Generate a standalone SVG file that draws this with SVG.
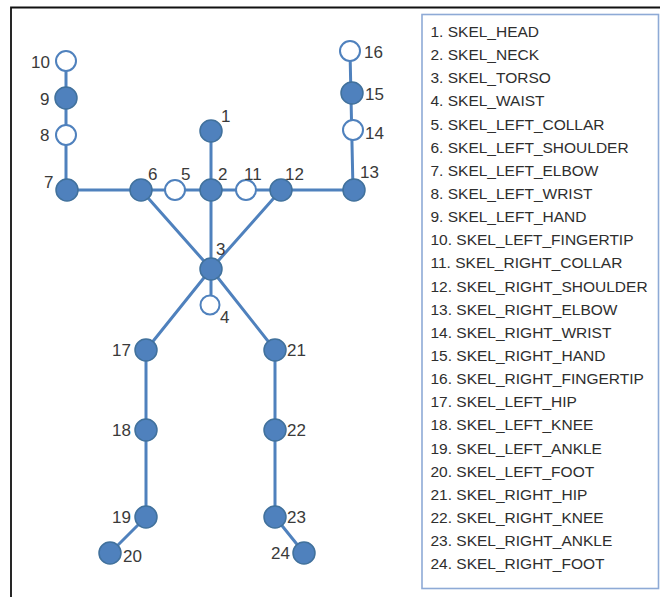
<svg xmlns="http://www.w3.org/2000/svg" width="660" height="597" viewBox="0 0 660 597">
  <style>
    .bone { stroke: #4f81bd; stroke-width: 3; fill: none; stroke-linecap: round; }
    .joint { fill: #4f81bd; stroke: #41719c; stroke-width: 1.5; }
    .virtual { fill: #ffffff; stroke: #4f81bd; stroke-width: 2; }
    .num { font-family: "Liberation Sans", Arial, sans-serif; font-size: 17px; fill: #3a3a3a; }
    .item { font-family: "Liberation Sans", Arial, sans-serif; font-size: 15.5px; fill: #2e2e2e; }
  </style>

  <rect x="0" y="0" width="660" height="597" fill="#ffffff"/>

  <!-- outer frame (top and left edges) -->
  <path d="M11 597 V7.5 H660" fill="none" stroke="#111111" stroke-width="1.8"/>

  <!-- bones -->
  <g id="connectors">
    <line class="bone" x1="66" y1="61" x2="66" y2="190"/>
    <line class="bone" x1="66" y1="190" x2="354" y2="190"/>
    <line class="bone" x1="211" y1="131" x2="211" y2="305"/>
    <line class="bone" x1="350" y1="51" x2="353" y2="190"/>
    <line class="bone" x1="141" y1="190" x2="211" y2="269"/>
    <line class="bone" x1="281" y1="190" x2="211" y2="269"/>
    <line class="bone" x1="211" y1="269" x2="146" y2="350"/>
    <line class="bone" x1="211" y1="269" x2="275" y2="350"/>
    <line class="bone" x1="146" y1="350" x2="146" y2="517"/>
    <line class="bone" x1="146" y1="517" x2="110" y2="553"/>
    <line class="bone" x1="275" y1="350" x2="275" y2="517"/>
    <line class="bone" x1="275" y1="517" x2="304" y2="553"/>
  </g>

  <!-- joints -->
  <g id="n1"><circle class="joint" cx="211" cy="131" r="11"/><text class="num" x="221" y="122">1</text></g>
  <g id="n2"><circle class="joint" cx="211" cy="190" r="11"/><text class="num" x="218" y="180">2</text></g>
  <g id="n3"><circle class="joint" cx="211" cy="269" r="11"/><text class="num" x="216" y="255">3</text></g>
  <g id="n4"><circle class="virtual" cx="210" cy="305" r="9.5"/><text class="num" x="220" y="323">4</text></g>
  <g id="n5"><circle class="virtual" cx="175" cy="190" r="10"/><text class="num" x="181" y="180">5</text></g>
  <g id="n6"><circle class="joint" cx="141" cy="190" r="11"/><text class="num" x="148" y="180">6</text></g>
  <g id="n7"><circle class="joint" cx="67" cy="190" r="11"/><text class="num" x="44" y="188">7</text></g>
  <g id="n8"><circle class="virtual" cx="66" cy="135" r="10"/><text class="num" x="40" y="141">8</text></g>
  <g id="n9"><circle class="joint" cx="66" cy="98" r="11"/><text class="num" x="40" y="105">9</text></g>
  <g id="n10"><circle class="virtual" cx="66" cy="61" r="10"/><text class="num" x="31" y="68">10</text></g>
  <g id="n11"><circle class="virtual" cx="246" cy="190" r="10"/><text class="num" x="244" y="180">11</text></g>
  <g id="n12"><circle class="joint" cx="281" cy="190" r="11"/><text class="num" x="285" y="180">12</text></g>
  <g id="n13"><circle class="joint" cx="354" cy="190" r="11"/><text class="num" x="360" y="178">13</text></g>
  <g id="n14"><circle class="virtual" cx="353" cy="130" r="10"/><text class="num" x="365" y="139">14</text></g>
  <g id="n15"><circle class="joint" cx="352" cy="93" r="11"/><text class="num" x="365" y="100">15</text></g>
  <g id="n16"><circle class="virtual" cx="350" cy="51" r="10"/><text class="num" x="364" y="58">16</text></g>
  <g id="n17"><circle class="joint" cx="146" cy="350" r="11"/><text class="num" x="112" y="356">17</text></g>
  <g id="n18"><circle class="joint" cx="146" cy="430" r="11"/><text class="num" x="112" y="436">18</text></g>
  <g id="n19"><circle class="joint" cx="146" cy="517" r="11"/><text class="num" x="112" y="523">19</text></g>
  <g id="n20"><circle class="joint" cx="110" cy="553" r="11"/><text class="num" x="123" y="562">20</text></g>
  <g id="n21"><circle class="joint" cx="275" cy="350" r="11"/><text class="num" x="287" y="356">21</text></g>
  <g id="n22"><circle class="joint" cx="275" cy="430" r="11"/><text class="num" x="287" y="436">22</text></g>
  <g id="n23"><circle class="joint" cx="275" cy="517" r="11"/><text class="num" x="287" y="523">23</text></g>
  <g id="n24"><circle class="joint" cx="304" cy="553" r="11"/><text class="num" x="271" y="559">24</text></g>

  <!-- joint name legend -->
  <g id="legend">
    <rect x="422" y="14.5" width="236.5" height="574" fill="#ffffff" stroke="#8eaad6" stroke-width="1.6"/>
    <text class="item" x="430.5" y="37">1. SKEL_HEAD</text>
    <text class="item" x="430.5" y="60.1">2. SKEL_NECK</text>
    <text class="item" x="430.5" y="83.3">3. SKEL_TORSO</text>
    <text class="item" x="430.5" y="106.4">4. SKEL_WAIST</text>
    <text class="item" x="430.5" y="129.6">5. SKEL_LEFT_COLLAR</text>
    <text class="item" x="430.5" y="152.7">6. SKEL_LEFT_SHOULDER</text>
    <text class="item" x="430.5" y="175.8">7. SKEL_LEFT_ELBOW</text>
    <text class="item" x="430.5" y="199">8. SKEL_LEFT_WRIST</text>
    <text class="item" x="430.5" y="222.1">9. SKEL_LEFT_HAND</text>
    <text class="item" x="430.5" y="245.3">10. SKEL_LEFT_FINGERTIP</text>
    <text class="item" x="430.5" y="268.4">11. SKEL_RIGHT_COLLAR</text>
    <text class="item" x="430.5" y="291.5">12. SKEL_RIGHT_SHOULDER</text>
    <text class="item" x="430.5" y="314.7">13. SKEL_RIGHT_ELBOW</text>
    <text class="item" x="430.5" y="337.8">14. SKEL_RIGHT_WRIST</text>
    <text class="item" x="430.5" y="361">15. SKEL_RIGHT_HAND</text>
    <text class="item" x="430.5" y="384.1">16. SKEL_RIGHT_FINGERTIP</text>
    <text class="item" x="430.5" y="407.2">17. SKEL_LEFT_HIP</text>
    <text class="item" x="430.5" y="430.4">18. SKEL_LEFT_KNEE</text>
    <text class="item" x="430.5" y="453.5">19. SKEL_LEFT_ANKLE</text>
    <text class="item" x="430.5" y="476.7">20. SKEL_LEFT_FOOT</text>
    <text class="item" x="430.5" y="499.8">21. SKEL_RIGHT_HIP</text>
    <text class="item" x="430.5" y="522.9">22. SKEL_RIGHT_KNEE</text>
    <text class="item" x="430.5" y="546.1">23. SKEL_RIGHT_ANKLE</text>
    <text class="item" x="430.5" y="569.2">24. SKEL_RIGHT_FOOT</text>
  </g>
</svg>
